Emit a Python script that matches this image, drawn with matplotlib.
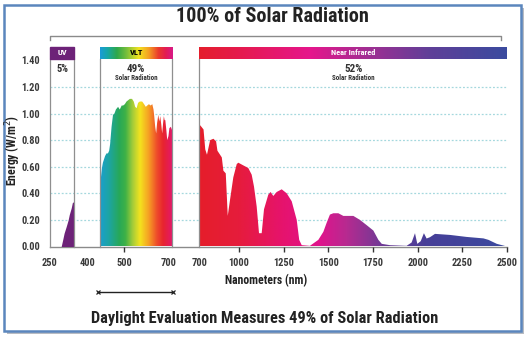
import matplotlib.pyplot as plt
import numpy as np
from matplotlib.colors import to_rgb
from matplotlib.patches import Rectangle, Polygon
from matplotlib.lines import Line2D
import matplotlib.transforms as mtransforms
from matplotlib import font_manager

# spectral irradiance readings, split by band
uv_nm = [319, 330, 337, 350, 362, 369, 381, 388, 400]
uv_energy = [0.0, 0.06, 0.10, 0.15, 0.20, 0.24, 0.29, 0.33, 0.34]

vlt_nm = [400, 403, 404, 408, 412, 421, 427, 433, 438, 442, 448, 454, 460,
          466, 475, 482, 490, 496, 503, 510, 517, 524, 533, 540, 546, 552,
          558, 565, 575, 583, 590, 596, 603, 610, 617, 622, 625, 629, 633,
          637, 642, 646, 650, 654, 658, 662, 665, 668, 671, 675, 679, 684,
          688, 694, 700]
vlt_energy = [0.46, 0.46, 0.52, 0.59, 0.63, 0.68, 0.70, 0.70, 0.72, 0.77,
              0.90, 0.99, 1.00, 1.03, 1.05, 1.03, 1.06, 1.06, 1.07, 1.09,
              1.10, 1.11, 1.11, 1.09, 1.05, 1.04, 1.08, 1.09, 1.09, 1.07,
              1.05, 1.06, 1.07, 1.06, 1.07, 1.03, 0.98, 0.90, 0.85, 0.93,
              0.99, 0.94, 0.98, 0.92, 0.85, 0.93, 0.98, 0.95, 0.95, 0.88,
              0.80, 0.83, 0.89, 0.90, 0.87]

nir_nm = [700, 708, 732, 745, 758, 782, 807, 827, 837, 870, 882, 900, 915,
          932, 957, 983, 995, 1024, 1052, 1071, 1084, 1099, 1112, 1127,
          1140, 1164, 1177, 1192, 1211, 1239, 1267, 1295, 1323, 1337, 1351,
          1397, 1444, 1472, 1491, 1509, 1528, 1556, 1584, 1640, 1677, 1715,
          1752, 1780, 1799, 1845, 1938, 1966, 1985, 1998, 2017, 2035, 2050,
          2069, 2097, 2181, 2274, 2368, 2396, 2443, 2500]
nir_energy = [0.91, 0.91, 0.88, 0.73, 0.69, 0.80, 0.81, 0.79, 0.72, 0.67,
              0.57, 0.55, 0.23, 0.35, 0.52, 0.62, 0.63, 0.61, 0.59, 0.54,
              0.45, 0.30, 0.10, 0.10, 0.28, 0.39, 0.41, 0.38, 0.41, 0.43,
              0.40, 0.34, 0.20, 0.05, 0.01, 0.005, 0.05, 0.11, 0.18, 0.24,
              0.25, 0.25, 0.23, 0.23, 0.20, 0.16, 0.12, 0.05, 0.02, 0.01,
              0.005, 0.03, 0.10, 0.02, 0.04, 0.10, 0.06, 0.07, 0.095, 0.087,
              0.072, 0.061, 0.05, 0.02, 0.0]

y_ticks = [0.0, 0.2, 0.4, 0.6, 0.8, 1.0, 1.2, 1.4]
band_names = ['UV', 'VLT', 'Near Infrared']
band_shares = ['5%', '49%', '52%']

# colour stops along the spectrum
vlt_stops_nm = [400, 440, 480, 505, 535, 565, 600, 635, 660, 700]
vlt_stops = ['#1a9fcf', '#1ea59e', '#27a858', '#3fb146', '#a6cd39',
             '#f4e31e', '#f6a024', '#ee4a2b', '#e8242f', '#e3176f']
nir_stops_nm = [700, 1000, 1250, 1450, 1600, 1800, 2050, 2500]
nir_stops = ['#e51e2a', '#e61c3c', '#e6136e', '#e0138c', '#b82a90',
             '#6f3a96', '#473f98', '#3b4a9f']
uv_color = '#6d2278'

W, H = 528, 337
YMAX = 1.5
BAR_LO = 1.41


def pick_font(names):
    have = {f.name for f in font_manager.fontManager.ttflist}
    return [n for n in names if n in have] + ['DejaVu Sans']


FONT = pick_font(['Liberation Sans Narrow', 'Roboto Condensed', 'Liberation Sans'])
plt.rcParams['font.family'] = FONT


def box(x0, x1, y_top=47, y_bot=246.5):
    return [x0 / W, 1 - y_bot / H, (x1 - x0) / W, (y_bot - y_top) / H]


def ramp(nm, stops_nm, stops):
    rgb = np.array([to_rgb(c) for c in stops])
    return np.column_stack([np.interp(nm, stops_nm, rgb[:, k]) for k in range(3)])


def gradient(ax, nm_of_frac, stops_nm, stops, y0, y1, clip=None, z=2):
    f = (np.arange(600) + 0.5) / 600
    cols = ramp(nm_of_frac(f), stops_nm, stops)
    im = ax.imshow(cols[np.newaxis], extent=(0, 1, y0 / YMAX, y1 / YMAX),
                   transform=ax.transAxes, aspect='auto',
                   interpolation='bilinear', zorder=z)
    if clip is not None:
        im.set_clip_path(clip)
    return im


fig = plt.figure(figsize=(W / 100, H / 100), dpi=100)

# frame with a soft drop shadow
fig.add_artist(Rectangle((6.5 / W, 1 - 334 / H), 517 / W, 326 / H,
                         transform=fig.transFigure, facecolor='#b9bcc2',
                         edgecolor='none', zorder=-3))
fig.add_artist(Rectangle((3.5 / W, 1 - 331 / H), 517 / W, 326 / H,
                         transform=fig.transFigure, facecolor='white',
                         edgecolor='#5b86bd', linewidth=1.8, zorder=-2))

ax = fig.add_axes(box(50, 507))
ax.set_ylim(0, YMAX)
ax.set_xlim(0, 1)
ax.patch.set_alpha(0)
for s in ['top', 'right', 'left']:
    ax.spines[s].set_visible(False)
ax.spines['bottom'].set_color('#8a8a8a')
ax.spines['bottom'].set_linewidth(1.0)
ax.set_xticks([])
ax.set_yticks(y_ticks)
ax.set_yticklabels([f'{v:.2f}' for v in y_ticks], fontsize=7.5,
                   fontweight='bold', color='#3a3a3a')
ax.tick_params(axis='y', length=0, pad=7)
for v in y_ticks[1:-1]:
    ax.axhline(v, color='#a5d8de', lw=0.9, ls=(0, (1.5, 1.5)), zorder=1)

ax.set_ylabel('Energy (W/m$^2$)', fontsize=8.5, fontweight='bold',
              color='#222222')
ax.yaxis.set_label_coords(-0.06, 0.48)
ax.set_xlabel('Nanometers (nm)', fontsize=8.5, fontweight='bold',
              color='#222222')
ax.xaxis.set_label_coords(0.472, -0.138)

# bracket over the full plotting range
ax.add_line(Line2D([0, 0, 0.987, 0.987], [1.035, 1.055, 1.055, 1.035],
                   transform=ax.transAxes, color='#8a8a8a', lw=1, clip_on=False))

# piecewise stretch for the near-infrared panel
kn_nm = [0, 700, 1000, 2500, 10000]
kn_px = [-700 * 39.7 / 300, 0, 39.7, 307.7, 307.7 + 7500 * 0.1786]


def nir_fwd(x):
    return np.interp(x, kn_nm, kn_px)


def nir_inv(u):
    return np.interp(u, kn_px, kn_nm)


panels = [
    (box(50, 74.3), (250, 400), None),
    (box(100, 172.3), (400, 700), None),
    (box(199.3, 507), (700, 2500), (nir_fwd, nir_inv)),
]
subs = []
for rect, lims, funcs in panels:
    sub = fig.add_axes(rect, sharey=ax)
    if funcs is not None:
        sub.set_xscale('function', functions=funcs)
    sub.set_xlim(*lims)
    sub.set_ylim(0, YMAX)
    sub.patch.set_alpha(0)
    for s in sub.spines.values():
        s.set_visible(False)
    sub.tick_params(axis='y', left=False, labelleft=False)
    sub.tick_params(axis='x', length=3.5, width=1, color='#333333', pad=5,
                    labelsize=7.5, labelcolor='#3a3a3a')
    subs.append(sub)
ax_uv, ax_vlt, ax_nir = subs

# panel outlines
for sub, edges in [(ax_uv, (250, 400)), (ax_vlt, (400, 700)), (ax_nir, (700,))]:
    for e in edges:
        sub.plot([e, e], [0, BAR_LO], color='#8f8f8f', lw=0.9, zorder=3,
                 clip_on=False)

# spectra
ax_uv.fill_between(uv_nm, uv_energy, 0, color=uv_color, lw=0, zorder=2)

vlt_clip = Polygon(np.column_stack([[vlt_nm[0]] + vlt_nm + [vlt_nm[-1]],
                                    [0] + vlt_energy + [0]]),
                   transform=ax_vlt.transData)
gradient(ax_vlt, lambda f: 400 + f * 300, vlt_stops_nm, vlt_stops, 0, YMAX,
         clip=vlt_clip)

nir_clip = Polygon(np.column_stack([[nir_nm[0]] + nir_nm + [nir_nm[-1]],
                                    [0] + nir_energy + [0]]),
                   transform=ax_nir.transData)
gradient(ax_nir, lambda f: nir_inv(f * 307.7), nir_stops_nm, nir_stops, 0,
         YMAX, clip=nir_clip)

# band header bars
ax_uv.add_patch(Rectangle((0, BAR_LO / YMAX), 1, (YMAX - BAR_LO) / YMAX,
                          transform=ax_uv.transAxes, color=uv_color,
                          clip_on=False, zorder=3))
vlt_bar_nm = [400, 430, 470, 510, 560, 600, 640, 670, 700]
vlt_bar = ['#1b9bd8', '#17a7a8', '#2ea84a', '#79bf3c', '#f2e21f',
           '#f5a123', '#ea3a2c', '#e31c52', '#d8198a']
gradient(ax_vlt, lambda f: 400 + f * 300, vlt_bar_nm, vlt_bar, BAR_LO, YMAX, z=3)
nir_bar_frac = [0, 0.12, 0.36, 0.55, 0.75, 1.0]
nir_bar = ['#e41e2c', '#e51a4a', '#e6168c', '#a02f93', '#5f3f98', '#3a4b9f']
gradient(ax_nir, lambda f: f, nir_bar_frac, nir_bar, BAR_LO, YMAX, z=3)

bar_mid = (BAR_LO + YMAX) / 2 / YMAX
for sub, name, col in zip((ax_uv, ax_vlt, ax_nir), band_names,
                          ('white', 'black', 'white')):
    sub.text(0.5, bar_mid, name, transform=sub.transAxes, ha='center',
             va='center', color=col, fontsize=6, fontweight='bold', zorder=4)

# band shares
ax_uv.text(0.5, 1.335 / YMAX, band_shares[0], transform=ax_uv.transAxes,
           ha='center', va='center', fontsize=7.5, fontweight='bold',
           color='#333333')
for sub, share in [(ax_vlt, band_shares[1]), (ax_nir, band_shares[2])]:
    sub.text(0.5, 1.335 / YMAX, share, transform=sub.transAxes, ha='center',
             va='center', fontsize=8, fontweight='bold', color='#333333')
    sub.text(0.5, 1.265 / YMAX, 'Solar Radiation', transform=sub.transAxes,
             ha='center', va='center', fontsize=5, fontweight='bold',
             color='#333333')

# x ticks per panel
ax_uv.set_xticks([250])
ax_uv.set_xticklabels(['250'], fontweight='bold')
ax_vlt.set_xticks([500, 700])
ax_vlt.set_xticklabels(['500', '700'], fontweight='bold')
nir_ticks = [700, 1000, 1250, 1500, 1750, 2000, 2250, 2500]
ax_nir.set_xticks(nir_ticks)
ax_nir.set_xticklabels([str(t) for t in nir_ticks], fontweight='bold')
ax_uv.xaxis.get_major_ticks()[0].tick1line.set_visible(False)
ax_vlt.xaxis.get_major_ticks()[1].tick1line.set_visible(False)
ax_nir.xaxis.get_major_ticks()[0].tick1line.set_visible(False)
shift = mtransforms.ScaledTranslation(-4 / 100, 0, fig.dpi_scale_trans)
lbl = ax_vlt.get_xticklabels()[1]
lbl.set_transform(lbl.get_transform() + shift)
ax_vlt.annotate('400', xy=(400, 0), xycoords=ax_vlt.get_xaxis_transform(),
                xytext=(-12, -16.5), textcoords='offset pixels', ha='center',
                va='center', fontsize=7.5, fontweight='bold', color='#3a3a3a',
                annotation_clip=False)

# VLT measurement span under the axis
span = mtransforms.blended_transform_factory(ax_vlt.transData, ax_vlt.transAxes)
ax_vlt.plot([392, 704], [-0.228, -0.228], color='#222222', lw=1,
            transform=span, clip_on=False)
ax_vlt.plot([392, 704], [-0.228, -0.228], ls='none', marker='x', ms=3.5,
            mew=0.9, color='#222222', transform=span, clip_on=False)

fig.text(272 / W, 1 - 17 / H, '100% of Solar Radiation', ha='center',
         va='center', fontsize=14.5, fontweight='bold', color='#222222')
fig.text(265 / W, 1 - 319 / H,
         'Daylight Evaluation Measures 49% of Solar Radiation', ha='center',
         va='center', fontsize=11.8, fontweight='bold', color='#222222')

for a in (ax, ax_uv, ax_vlt, ax_nir):
    a.set_ylim(0, YMAX)
ax_uv.set_xlim(250, 400)
ax_vlt.set_xlim(400, 700)
ax_nir.set_xlim(700, 2500)

fig.savefig('out.png', dpi=100)
